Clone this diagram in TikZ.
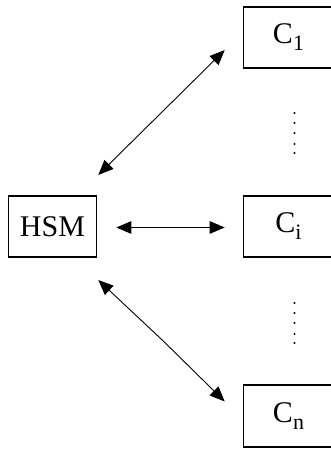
\documentclass[tikz,border=0pt]{standalone}
\usepackage{fontspec}
\setmainfont{Liberation Serif}
\usetikzlibrary{arrows.meta,
  calc,
  positioning
}
\newcommand{\lowidx}[1]{\raisebox{-7pt}{\fontsize{22}{22}\selectfont #1}}

\begin{document}
\begin{tikzpicture}[x=1pt,y=1pt,
  unitbox/.style={draw,line width=1.6,inner sep=0,minimum height=61.5,
    font=\fontsize{30}{32}\selectfont},
  link/.style={<->,>={Triangle[length=15pt,width=12.5pt]},line width=0.9}]
  \useasboundingbox (0,0) rectangle (331,450);
  \clip (0,0) rectangle (331,450);

  \node[unitbox,minimum width=88] (HSM) at (52.5,223.5) {HSM};
  \node[unitbox,minimum width=90] (C1) at (288.5,412.5) {C\lowidx{1}};
  \node[unitbox,minimum width=90] (Ci) at (288.5,223.5) {C\lowidx{i}};
  \node[unitbox,minimum width=90] (Cn) at (288.5,34) {C\lowidx{n}};

  \draw[link] ($(HSM.north east) + (1, 20)$) -- ($(C1.south west) + (-18, 19)$);
  \draw[link] ($(HSM.east) + (19, -1)$) -- ($(Ci.west) + (-18, -1)$);
  \coordinate (Bend) at ($(HSM.south east) + (66, -83)$);
  \draw[link] ($(HSM.south east) + (1, -22)$) -- (Bend) -- ($(Cn.north west) + (-18, -17)$);

  \foreach \y in {337, 327, 317, 306, 297, 147, 137, 127, 116, 107}
    \fill (294.5, \y) circle (1.1);
\end{tikzpicture}
\end{document}
